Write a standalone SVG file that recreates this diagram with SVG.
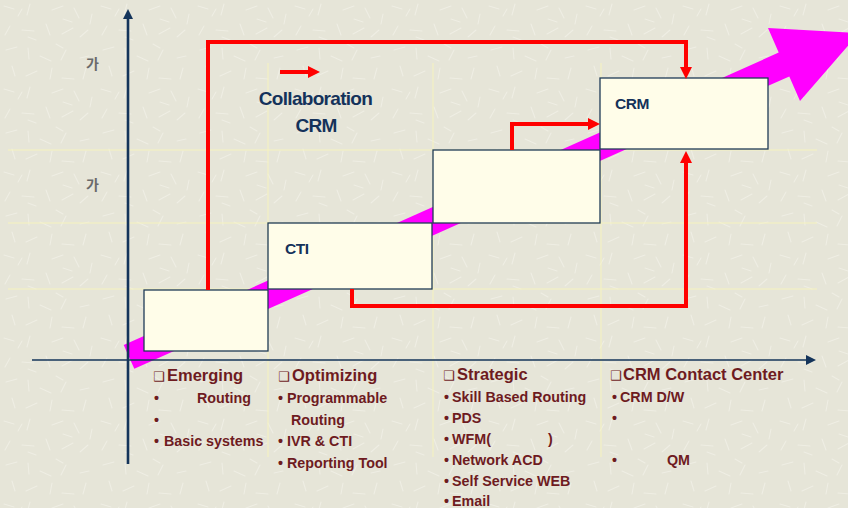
<svg xmlns="http://www.w3.org/2000/svg" width="848" height="508" viewBox="0 0 848 508">
  <defs>
    <!-- paper-like speckled background -->
    <pattern id="paper" width="97" height="83" patternUnits="userSpaceOnUse">
      <rect width="97" height="83" fill="#E6E5D8"/>
      <g stroke="#EFEEE4" stroke-width="1.1" stroke-linecap="round" fill="none">
        <path d="M4,6 l10,3 M30,4 l-3,11 M52,10 l11,-4 M74,8 l5,10 M10,26 l-5,9 M22,30 l12,1 M46,24 l4,11 M62,34 l11,-6 M88,30 l-8,7"/>
        <path d="M6,50 l11,-3 M28,48 l1,11 M40,56 l11,5 M66,50 l-5,10 M80,58 l9,-2 M12,66 l3,10 M26,76 l11,-5 M52,68 l-2,11 M62,78 l12,1 M86,68 l-3,11"/>
        <path d="M36,40 l-8,-3 M56,44 l7,4 M18,16 l4,-7 M72,22 l-9,-3 M92,14 l-2,10"/>
      </g>
    </pattern>
    <marker id="redHead" viewBox="0 0 12 12" markerWidth="12" markerHeight="12" refX="0" refY="6" orient="auto" markerUnits="userSpaceOnUse">
      <path d="M0,0 L12,6 L0,12 z" fill="#FF0000"/>
    </marker>
    <marker id="axisHead" viewBox="0 0 10 10" markerWidth="10" markerHeight="10" refX="0" refY="5" orient="auto" markerUnits="userSpaceOnUse">
      <path d="M0,0 L10,5 L0,10 z" fill="#14345A"/>
    </marker>
    <style>
      .grid { stroke: #F6F3BE; stroke-width: 1; fill: none; }
      .axis { stroke: #14345A; fill: none; }
      .box { fill: #FFFDE9; stroke: #1F3B57; stroke-width: 1.3; }
      .flow { stroke: #FF0000; stroke-width: 4; fill: none; stroke-linejoin: miter; marker-end: url(#redHead); }
      .lbl { font-family: "Liberation Sans", Arial, sans-serif; font-weight: bold; fill: #14325A; }
      .ko { font-family: "Noto Sans CJK KR", "Noto Sans", sans-serif; font-size: 14px; font-weight: bold; fill: #6A6A6A; }
      .hdr { font-family: "Liberation Sans", Arial, sans-serif; font-weight: bold; font-size: 16.5px; fill: #6E1B1F; }
      .sq { font-family: "DejaVu Sans", sans-serif; font-size: 13px; font-weight: normal; }
      .item { font-family: "Liberation Sans", Arial, sans-serif; font-weight: bold; font-size: 14.3px; fill: #6E1B1F; }
    </style>
  </defs>

  <rect width="848" height="508" fill="url(#paper)"/>

  <!-- faint grid -->
  <g id="grid">
    <path class="grid" d="M8,150 H817 M8,223 H817 M8,289 H817"/>
    <path class="grid" d="M268,63 V457 M433,63 V457 M601,63 V457"/>
  </g>

  <!-- rising trend arrow -->
  <polygon id="trend" fill="#FF00FF" points="123.7,345 778.7,52.6 768,28 859,33 800,101 789.3,76.4 134.3,368.8"/>

  <!-- axes -->
  <g id="axes">
    <path class="axis" stroke-width="2.6" d="M128,464 V19" marker-end="url(#axisHead)"/>
    <path class="axis" stroke-width="1.6" d="M32,360 H806" marker-end="url(#axisHead)"/>
  </g>

  <!-- stage boxes -->
  <g id="stage-emerging"><rect class="box" x="144" y="290" width="124" height="61"/></g>
  <g id="stage-cti">
    <rect class="box" x="268" y="223" width="164" height="66"/>
    <text class="lbl" x="285" y="254" font-size="15.5" letter-spacing="-0.4">CTI</text>
  </g>
  <g id="stage-strategic"><rect class="box" x="433" y="150" width="167" height="73"/></g>
  <g id="stage-crm">
    <rect class="box" x="600" y="78" width="168" height="71"/>
    <text class="lbl" x="615" y="109" font-size="15.5" letter-spacing="-0.5">CRM</text>
  </g>

  <!-- connectors -->
  <g id="connectors">
    <path class="flow" d="M208,290 V42 H686 V67"/>
    <path class="flow" d="M512,150 V124 H588"/>
    <path class="flow" d="M352,289 V306 H686 V163"/>
    <path class="flow" d="M280,72 H308"/>
  </g>

  <!-- legend label -->
  <g id="collab-label">
    <text class="lbl" x="315.5" y="105" font-size="19" letter-spacing="-0.7" text-anchor="middle">Collaboration</text>
    <text class="lbl" x="316" y="132" font-size="19" letter-spacing="-0.7" text-anchor="middle">CRM</text>
  </g>

  <!-- y-axis markers -->
  <g id="y-labels">
    <text class="ko" x="86" y="69">가</text>
    <text class="ko" x="86" y="190">가</text>
  </g>

  <!-- stage descriptions -->
  <g id="col-emerging">
    <text class="hdr" y="381"><tspan class="sq" x="153">❑</tspan><tspan x="167">Emerging</tspan></text>
    <text class="item" y="403"><tspan x="154">•</tspan><tspan x="197">Routing</tspan></text>
    <text class="item" y="424.5"><tspan x="154">•</tspan></text>
    <text class="item" y="446"><tspan x="154">•</tspan><tspan x="164">Basic systems</tspan></text>
  </g>
  <g id="col-optimizing">
    <text class="hdr" y="381"><tspan class="sq" x="278">❑</tspan><tspan x="292">Optimizing</tspan></text>
    <text class="item" y="403"><tspan x="278">•</tspan><tspan x="287">Programmable</tspan></text>
    <text class="item" y="424.5"><tspan x="291">Routing</tspan></text>
    <text class="item" y="446"><tspan x="278">•</tspan><tspan x="287">IVR &amp; CTI</tspan></text>
    <text class="item" y="467.5"><tspan x="278">•</tspan><tspan x="287">Reporting Tool</tspan></text>
  </g>
  <g id="col-strategic">
    <text class="hdr" y="380"><tspan class="sq" x="443">❑</tspan><tspan x="457">Strategic</tspan></text>
    <text class="item" y="402"><tspan x="444">•</tspan><tspan x="452">Skill Based Routing</tspan></text>
    <text class="item" y="423"><tspan x="444">•</tspan><tspan x="452">PDS</tspan></text>
    <text class="item" y="444"><tspan x="444">•</tspan><tspan x="452">WFM(</tspan><tspan x="548">)</tspan></text>
    <text class="item" y="465"><tspan x="444">•</tspan><tspan x="452">Network ACD</tspan></text>
    <text class="item" y="486"><tspan x="444">•</tspan><tspan x="452">Self Service WEB</tspan></text>
    <text class="item" y="506"><tspan x="444">•</tspan><tspan x="452">Email</tspan></text>
  </g>
  <g id="col-crm">
    <text class="hdr" y="380"><tspan class="sq" x="610">❑</tspan><tspan x="623">CRM Contact Center</tspan></text>
    <text class="item" y="402"><tspan x="612">•</tspan><tspan x="620">CRM D/W</tspan></text>
    <text class="item" y="423"><tspan x="612">•</tspan></text>
    <text class="item" y="465"><tspan x="612">•</tspan><tspan x="667">QM</tspan></text>
  </g>
</svg>
